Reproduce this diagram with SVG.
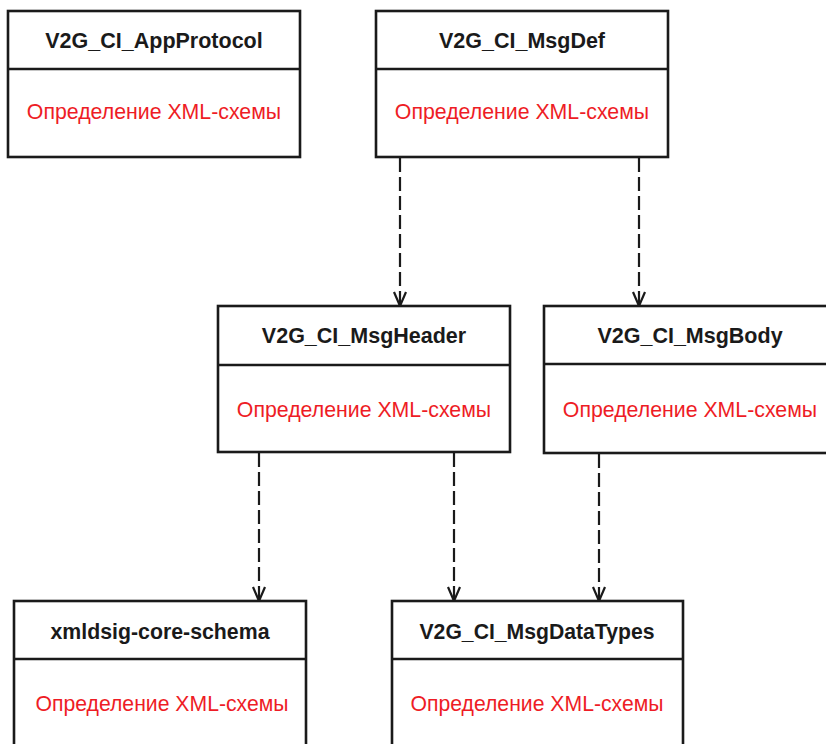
<svg xmlns="http://www.w3.org/2000/svg" width="826" height="744" viewBox="0 0 826 744">
<defs>
<style>
.box{fill:#fff;stroke:#1a1a1a;stroke-width:2.6}
.div{stroke:#1a1a1a;stroke-width:2.6}
.title{font-family:"Liberation Sans",Arial,sans-serif;font-weight:bold;font-size:21.5px;fill:#1a1a1a;text-anchor:middle}
.body{font-family:"Liberation Sans",Arial,sans-serif;font-size:21.3px;fill:#ee1c25;text-anchor:middle}
.conn{fill:none;stroke:#1a1a1a;stroke-width:2.2;stroke-dasharray:14 5}
.head{fill:none;stroke:#1a1a1a;stroke-width:2.2}
</style>
</defs>
<g id="connectors">
<path class="conn" d="M400,158 V305"/>
<path class="conn" d="M639,158 V305"/>
<path class="conn" d="M259,453 V600"/>
<path class="conn" d="M454,453 V600"/>
<path class="conn" d="M599,454 V600"/>
<path class="head" d="M394,292 L400,306 L406,292"/>
<path class="head" d="M633,292 L639,306 L645,292"/>
<path class="head" d="M253,587 L259,601 L265,587"/>
<path class="head" d="M448,587 L454,601 L460,587"/>
<path class="head" d="M593,587 L599,601 L605,587"/>
</g>
<g id="V2G_CI_AppProtocol">
<rect class="box" x="8" y="11" width="292" height="146"/>
<line class="div" x1="8" y1="69" x2="300" y2="69"/>
<text class="title" x="154" y="48">V2G_CI_AppProtocol</text>
<text class="body" x="154" y="119">Определение XML-схемы</text>
</g>
<g id="V2G_CI_MsgDef">
<rect class="box" x="376" y="11" width="292" height="146"/>
<line class="div" x1="376" y1="69" x2="668" y2="69"/>
<text class="title" x="522" y="48">V2G_CI_MsgDef</text>
<text class="body" x="522" y="119">Определение XML-схемы</text>
</g>
<g id="V2G_CI_MsgHeader">
<rect class="box" x="218" y="306" width="292" height="146"/>
<line class="div" x1="218" y1="365" x2="510" y2="365"/>
<text class="title" x="364" y="343">V2G_CI_MsgHeader</text>
<text class="body" x="364" y="417">Определение XML-схемы</text>
</g>
<g id="V2G_CI_MsgBody">
<rect class="box" x="544" y="306" width="292" height="147"/>
<line class="div" x1="544" y1="364" x2="836" y2="364"/>
<text class="title" x="690" y="343">V2G_CI_MsgBody</text>
<text class="body" x="690" y="417">Определение XML-схемы</text>
</g>
<g id="xmldsig-core-schema">
<rect class="box" x="14" y="601" width="292" height="160"/>
<line class="div" x1="14" y1="659" x2="306" y2="659"/>
<text class="title" x="160" y="639" textLength="219" lengthAdjust="spacingAndGlyphs">xmldsig-core-schema</text>
<text class="body" x="162" y="711" textLength="253" lengthAdjust="spacingAndGlyphs">Определение XML-схемы</text>
</g>
<g id="V2G_CI_MsgDataTypes">
<rect class="box" x="392" y="601" width="291" height="160"/>
<line class="div" x1="392" y1="659" x2="683" y2="659"/>
<text class="title" x="537" y="639" textLength="235" lengthAdjust="spacingAndGlyphs">V2G_CI_MsgDataTypes</text>
<text class="body" x="537" y="711" textLength="253" lengthAdjust="spacingAndGlyphs">Определение XML-схемы</text>
</g>
</svg>
